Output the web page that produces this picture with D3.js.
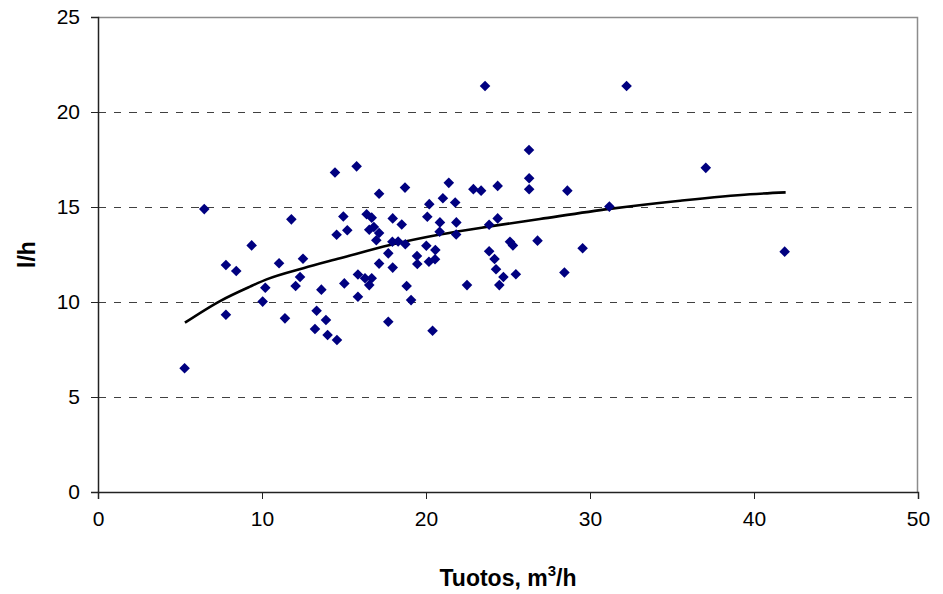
<!DOCTYPE html>
<html>
<head>
<meta charset="utf-8">
<script src="https://cdn.jsdelivr.net/npm/d3@7"></script>
<style>
  html, body { margin: 0; padding: 0; background: #fff; }
  svg { display: block; font-family: "Liberation Sans", Arial, sans-serif; }
</style>
</head>
<body>
<svg id="chart" width="943" height="594"></svg>
<script>
// Measured flow (m³/h) and corresponding l/h values
const flowValues = [
  5.28, 6.48, 7.80, 7.80, 8.43, 9.37, 10.04, 10.20, 11.04, 11.40,
  11.79, 12.05, 12.32, 12.50, 13.23, 13.33, 13.62, 13.90, 14.00, 14.45,
  14.55, 14.57, 14.96, 15.02, 15.20, 15.77, 15.85, 15.85, 16.28, 16.38,
  16.54, 16.54, 16.69, 16.69, 16.82, 16.97, 17.14, 17.14, 17.14, 17.70,
  17.70, 17.97, 17.97, 17.95, 18.30, 18.52, 18.72, 18.74, 18.82, 19.09,
  19.45, 19.47, 20.02, 20.08, 20.18, 20.20, 20.40, 20.55, 20.57, 20.83,
  20.85, 21.03, 21.39, 21.78, 21.84, 21.85, 22.50, 22.89, 23.36, 23.60,
  23.85, 23.85, 24.18, 24.27, 24.37, 24.37, 24.47, 24.72, 25.12, 25.30,
  25.48, 26.28, 26.29, 26.29, 26.80, 28.44, 28.62, 29.55, 31.18, 32.23,
  37.06, 41.87
];
const rateValues = [
  6.51, 14.89, 11.95, 9.33, 11.63, 12.98, 10.02, 10.75, 12.04, 9.14,
  14.35, 10.84, 11.32, 12.28, 8.58, 9.54, 10.65, 9.05, 8.26, 16.82,
  13.54, 8.00, 14.50, 10.98, 13.78, 17.14, 11.45, 10.28, 11.25, 14.62,
  13.80, 10.89, 14.44, 11.25, 13.95, 13.25, 13.63, 15.70, 12.02, 12.56,
  8.96, 14.40, 11.81, 13.17, 13.18, 14.08, 16.02, 13.04, 10.84, 10.10,
  12.42, 12.00, 12.96, 14.49, 12.12, 15.15, 8.49, 12.25, 12.74, 13.70,
  14.19, 15.46, 16.27, 15.24, 13.55, 14.19, 10.89, 15.94, 15.86, 21.37,
  14.07, 12.67, 12.26, 11.72, 16.11, 14.40, 10.89, 11.32, 13.17, 12.98,
  11.46, 18.00, 16.51, 15.93, 13.23, 11.55, 15.86, 12.83, 15.02, 21.37,
  17.06, 12.65
];

// Logarithmic trend line, sampled along its length
const trendFlow = [5.3, 7.44, 9.27, 10.28, 12.52, 14.76, 17.8, 20.85, 23.9, 26.95, 31.2, 35.5, 39.76, 41.93];
const trendRate = [8.91, 10.05, 10.81, 11.19, 11.78, 12.3, 13.0, 13.55, 13.98, 14.37, 14.9, 15.33, 15.67, 15.77];

// Axis ticks
const xTicks = [0, 10, 20, 30, 40, 50];
const yTicks = [0, 5, 10, 15, 20, 25];

const svg = d3.select("#chart");
const plot = { left: 98, right: 918, top: 17, bottom: 492 };

const x = d3.scaleLinear().domain([0, 50]).range([plot.left, plot.right]);
const y = d3.scaleLinear().domain([0, 25]).range([plot.bottom, plot.top]);

// Dashed horizontal gridlines
svg.append("g")
  .selectAll("line")
  .data(yTicks.filter(d => d > 0 && d < 25))
  .join("line")
  .attr("x1", plot.left).attr("x2", plot.right)
  .attr("y1", d => y(d)).attr("y2", d => y(d))
  .attr("stroke", "#404040")
  .attr("stroke-width", 1)
  .attr("stroke-dasharray", "7.5,8")
  .attr("shape-rendering", "crispEdges");

// Plot frame on top and right
svg.append("path")
  .attr("d", `M${plot.left},${plot.top + 0.5}H${plot.right - 0.5}V${plot.bottom}`)
  .attr("fill", "none")
  .attr("stroke", "#8c8c8c")
  .attr("stroke-width", 1.5);

// Axes
const xAxis = d3.axisBottom(x).tickValues(xTicks).tickSize(7).tickPadding(12).tickFormat(d3.format("d"));
const yAxis = d3.axisLeft(y).tickValues(yTicks).tickSize(7).tickPadding(11).tickFormat(d3.format("d"));

const gx = svg.append("g").attr("transform", `translate(0,${plot.bottom})`).call(xAxis);
const gy = svg.append("g").attr("transform", `translate(${plot.left},0)`).call(yAxis);

[gx, gy].forEach(g => {
  g.select(".domain").attr("stroke", "#222").attr("stroke-width", 1.5);
  g.selectAll(".tick line").attr("stroke", "#222").attr("stroke-width", 1);
  g.selectAll(".tick text")
    .attr("fill", "#000")
    .style("font-family", "'Liberation Sans', Arial, sans-serif")
    .style("font-size", "21px");
});

// Trend line
const trendPts = trendFlow.map((f, i) => [f, trendRate[i]]);
svg.append("path")
  .datum(trendPts)
  .attr("fill", "none")
  .attr("stroke", "#000")
  .attr("stroke-width", 2.6)
  .attr("stroke-linejoin", "round")
  .attr("d", d3.line().x(d => x(d[0])).y(d => y(d[1])).curve(d3.curveMonotoneX));

// Diamond markers
const diamond = d3.symbol().type(d3.symbolSquare).size(56);
svg.append("g")
  .selectAll("path")
  .data(flowValues.map((f, i) => [f, rateValues[i]]))
  .join("path")
  .attr("transform", d => `translate(${x(d[0])},${y(d[1])}) rotate(45)`)
  .attr("d", diamond)
  .attr("fill", "#000080");

// Axis titles
svg.append("text")
  .attr("transform", `translate(35,${(plot.top + plot.bottom) / 2}) rotate(-90)`)
  .attr("text-anchor", "middle")
  .style("font-size", "23px")
  .style("font-weight", "bold")
  .text("l/h");

const xt = svg.append("text")
  .attr("x", (plot.left + plot.right) / 2)
  .attr("y", 586)
  .attr("text-anchor", "middle")
  .style("font-size", "23px")
  .style("font-weight", "bold");
xt.append("tspan").text("Tuotos, m");
xt.append("tspan").attr("dy", -10).style("font-size", "15px").text("3");
xt.append("tspan").attr("dy", 10).text("/h");
</script>
</body>
</html>
